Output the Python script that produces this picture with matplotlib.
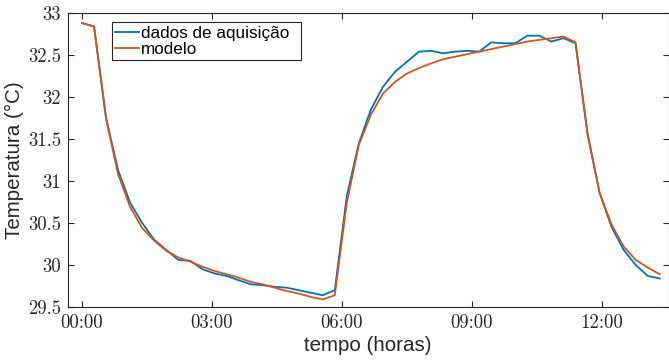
import numpy as np
import matplotlib
matplotlib.use("Agg")
from matplotlib import pyplot as plt
from matplotlib.ticker import FixedLocator, FixedFormatter

# aquisição a cada 1000 s
tempo_s = np.arange(0, 48001, 1000)

temp_medida = [32.88, 32.84, 31.75, 31.13, 30.74, 30.50, 30.30, 30.18, 30.06, 30.05,
               29.95, 29.90, 29.87, 29.82, 29.77, 29.76, 29.74, 29.73, 29.70, 29.67,
               29.64, 29.70, 30.82, 31.45, 31.85, 32.12, 32.30, 32.42, 32.54, 32.55,
               32.52, 32.54, 32.55, 32.54, 32.65, 32.64, 32.64, 32.73, 32.73, 32.66,
               32.70, 32.64, 31.57, 30.86, 30.45, 30.18, 30.00, 29.87, 29.84]

temp_modelo = [32.88, 32.84, 31.74, 31.08, 30.69, 30.44, 30.29, 30.17, 30.09, 30.04,
               29.98, 29.93, 29.89, 29.85, 29.80, 29.77, 29.73, 29.69, 29.66, 29.62,
               29.59, 29.64, 30.74, 31.43, 31.79, 32.04, 32.18, 32.28, 32.345, 32.40,
               32.45, 32.48, 32.51, 32.54, 32.57, 32.60, 32.63, 32.66, 32.68, 32.70,
               32.72, 32.65, 31.55, 30.86, 30.48, 30.22, 30.06, 29.97, 29.89]

xticks_h = [0, 3, 6, 9, 12]
xtick_labels = ["00:00", "03:00", "06:00", "09:00", "12:00"]
yticks = [29.5, 30, 30.5, 31, 31.5, 32, 32.5, 33]
ytick_labels = ["29.5", "30", "30.5", "31", "31.5", "32", "32.5", "33"]

azul = "#0072BD"
laranja = "#D95319"
eixo = "#262626"

W, H = 669, 360
fig = plt.figure(figsize=(W / 100, H / 100), dpi=100)
ax = fig.add_axes([68 / W, 1 - 307 / H, 600.5 / W, 294 / H])

t_h = tempo_s / 3600.0
ax.plot(t_h, temp_medida, color=azul, lw=1.3, label="dados de aquisição")
ax.plot(t_h, temp_modelo, color=laranja, lw=1.3, label="modelo")

ax.set_xlim(-0.323, 13.535)
ax.set_ylim(29.5, 33)

ax.xaxis.set_major_locator(FixedLocator(xticks_h))
ax.xaxis.set_major_formatter(FixedFormatter(xtick_labels))
ax.yaxis.set_major_locator(FixedLocator(yticks))
ax.yaxis.set_major_formatter(FixedFormatter(ytick_labels))

ax.tick_params(direction="in", length=4.3, width=0.8, colors=eixo,
               top=True, right=True, labelsize=13.5, pad=5)
for lbl in ax.get_xticklabels() + ax.get_yticklabels():
    lbl.set_fontfamily("cmr10")
    lbl.set_color(eixo)
for s in ax.spines.values():
    s.set_color(eixo)
    s.set_linewidth(0.8)

ax.set_xlabel("tempo (horas)", fontsize=14.8, family="Liberation Sans", color=eixo, labelpad=3)
ax.set_ylabel("Temperatura (°C)", fontsize=14.8, family="Liberation Sans", color=eixo, labelpad=3)

# caixa da legenda um pouco mais larga que o texto
leg_x0 = 43.7 / 600.5
leg_w = 189.5 / 600.5
leg_top = 1 - 9 / 294
leg = ax.legend(loc="upper left", bbox_to_anchor=(leg_x0, 0, leg_w, leg_top), mode="expand",
                borderaxespad=0, prop={"family": "Liberation Sans", "size": 12.3},
                handlelength=1.4, handletextpad=0.08, labelspacing=0.05,
                borderpad=0.22, fancybox=False, framealpha=1)
leg.get_frame().set_edgecolor(eixo)
leg.get_frame().set_linewidth(0.8)

fig.savefig("out.png", dpi=100)
